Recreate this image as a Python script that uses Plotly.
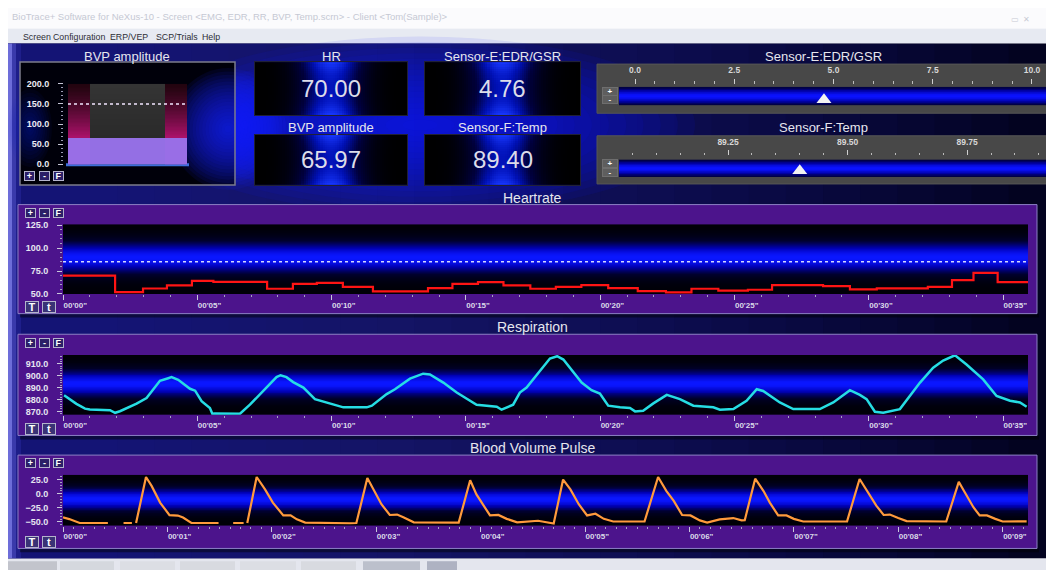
import numpy as np
import plotly.graph_objects as go

W, H = 1054, 570
OFF = 8  # the page body offsets the figure by its default margin
FONT = "Liberation Sans, Arial, sans-serif"

# ------------------------------------------------------------------ data
window_title = "BioTrace+ Software for NeXus-10 - Screen <EMG, EDR, RR, BVP, Temp.scrn> - Client <Tom(Sample)>"
menu_items = ["Screen", "Configuration", "ERP/VEP", "SCP/Trials", "Help"]

bvp_amp_value = 65.97
bvp_amp_threshold = 150.0
bvp_amp_ticks = [0, 50, 100, 150, 200]

value_titles = ["HR", "Sensor-E:EDR/GSR", "BVP amplitude", "Sensor-F:Temp"]
value_numbers = [70.00, 4.76, 65.97, 89.40]

edr_title = "Sensor-E:EDR/GSR"
edr_value = 4.76
edr_ticks = [0.0, 2.5, 5.0, 7.5, 10.0]
temp_title = "Sensor-F:Temp"
temp_value = 89.40
temp_ticks = [89.25, 89.50, 89.75]

hr_time = [0, 1.94, 2.98, 3.87, 4.8, 5.6, 7.6, 8.56, 9.45, 10.42, 11.54, 13.59, 14.5,
           15.45, 16.4, 17.4, 18.35, 19.3, 20.3, 21.4, 22.45, 23.4, 24.4, 25.5, 26.4,
           28.3, 29.3, 30.3, 32.2, 33.1, 33.9, 34.8, 35.93]
hr_bpm = [70, 52, 56, 59.3, 64.3, 63.2, 55.7, 61, 62, 57.8, 52.9, 56.4, 61,
          62.9, 59.3, 55.7, 57.8, 59.6, 56.4, 53.2, 51.8, 55.7, 53.6, 54.6, 59.6,
          58.6, 55, 56.1, 57.8, 65, 72.9, 62.9, 62.9]
hr_threshold = 85
hr_ticks = [50, 75, 100, 125]

resp_time = [0.04, 0.5, 0.82, 1.0, 1.75, 1.94, 2.12, 2.74, 3.11, 3.61, 3.92, 4.04, 4.29,
             4.73, 4.92, 5.16, 5.47, 5.56, 5.65, 6.55, 6.59, 6.96, 7.58, 7.95, 8.1, 8.32,
             8.57, 8.95, 9.38, 9.94, 10.19, 10.44, 11.31, 11.5, 12.05, 12.36, 12.92, 13.41,
             13.66, 14.16, 14.66, 15.15, 15.4, 16.15, 16.33, 16.76, 17.01, 17.26, 17.64,
             18.13, 18.4, 18.63, 19.31, 19.68, 19.99, 20.3, 20.74, 21.11, 21.3, 21.6, 21.98,
             22.48, 22.97, 23.47, 24.21, 24.46, 24.96, 25.45, 25.83, 26.07, 26.69, 27.19,
             28.18, 28.68, 29.3, 29.67, 29.92, 30.23, 30.54, 31.16, 31.91, 32.4, 32.77,
             33.21, 33.64, 34.26, 34.76, 35.26, 35.63, 35.88]
resp_value = [883.5, 876.3, 872.3, 871.5, 871, 868.8, 870.1, 876.5, 881.2, 895.7, 897.9, 898.8,
              896.5, 889, 887.4, 878.5, 872.9, 868, 868.3, 868.3, 868, 875.6, 890, 898.8,
              900.4, 898.8, 894.6, 890, 880.3, 876.7, 875.6, 873.4, 873.4, 874.8, 884.5,
              888.6, 897.5, 901.7, 901.1, 894.2, 885.8, 878.9, 875.6, 873.9, 871.4, 875.6,
              885.8, 890, 901.1, 914.4, 916.4, 913.6, 894.2, 887.8, 885, 874.8, 873.4,
              872.8, 870, 870.6, 876.7, 883.9, 880.3, 874.8, 873.4, 871.4, 871.9, 878.9,
              888.6, 887.2, 877.5, 871.9, 871.9, 877.5, 887.8, 883.9, 880.3, 869.7, 868.9,
              871.9, 894.2, 906.7, 912.8, 917.2, 909.4, 896.9, 883, 878.9, 877.5, 873.9]
resp_ticks = [870, 880, 890, 900, 910]

bvp_time = [0.0, 0.06, 0.16, 0.43, 0.5, 0.58, 0.66, 0.68, 0.70, 0.795, 0.85, 0.93, 1.02,
            1.1, 1.15, 1.23, 1.49, 1.56, 1.63, 1.73, 1.75, 1.765, 1.855, 1.935, 2.01,
            2.11, 2.18, 2.24, 2.32, 2.75, 2.81, 2.915, 2.99, 3.05, 3.13, 3.2, 3.26, 3.36,
            3.79, 3.9, 3.96, 4.03, 4.09, 4.17, 4.25, 4.35, 4.45, 4.55, 4.70, 4.79, 4.86,
            4.94, 5.02, 5.1, 5.18, 5.27, 5.57, 5.70, 5.78, 5.85, 5.93, 6.01, 6.1, 6.17,
            6.29, 6.42, 6.5, 6.53, 6.63, 6.71, 6.77, 6.85, 6.93, 7.0, 7.09, 7.51, 7.63,
            7.71, 7.79, 7.86, 7.92, 8.0, 8.08, 8.46, 8.58, 8.64, 8.72, 8.78, 8.85, 8.93,
            9.0, 9.23]
bvp_value = [-42, -45, -52, -52, None, -52, -52, None, -52, 29.7, 13.5, -15.7, -38,
             -38.8, -42.3, -52, -52, None, -52, -52, None, -52, 29.7, 7.7, -15.7,
             -38.5, -38.5, -45.5, -51.3, -52.4, -52, 28, 1.7, -18.6, -37.7, -37, -41.9, -50.7,
             -51.3, 24, -1.2, -21, -38.5, -37.7, -44.6, -50.7, -49, -48, -53, 25.2, 7.7,
             -18.6, -38.5, -35.6, -44.6, -49.3, -49.3, 29.7, 4.8, -12.8, -37.7, -38.5, -47.3, -51.3,
             -45.5, -43.2, -47.3, -47, 26.8, 4.8, -15.7, -38.5, -38.5, -44.6, -49.3, -49, 26.2,
             1.7, -21, -37.7, -37, -43.2, -48.5, -49.3, 21, 1.7, -24, -38.5, -38.5, -44.6,
             -49.3, -49]
bvp_ticks = [-50, -25, 0, 25]

long_ticks = [0, 5, 10, 15, 20, 25, 30, 35]
long_labels = ["00'00\"", "00'05\"", "00'10\"", "00'15\"", "00'20\"", "00'25\"", "00'30\"", "00'35\""]
short_ticks = [0, 1, 2, 3, 4, 5, 6, 7, 8, 9]
short_labels = ["00'00\"", "00'01\"", "00'02\"", "00'03\"", "00'04\"",
                "00'05\"", "00'06\"", "00'07\"", "00'08\"", "00'09\""]

chart_titles = ["Heartrate", "Respiration", "Blood Volume Pulse"]


# ------------------------------------------------------------------ helpers
def X(p):
    return (p - OFF) / W


def Y(p):
    return 1 - (p - OFF) / H


shapes, annotations, traces, axes = [], [], [], {}


def rect(x0, y0, x1, y1, fill, line=None, lw=0):
    shapes.append(dict(type="rect", xref="paper", yref="paper", layer="below",
                       x0=X(x0), x1=X(x1), y0=Y(y1), y1=Y(y0), fillcolor=fill,
                       line=dict(color=line or "rgba(0,0,0,0)", width=lw)))


def glow(cx, cy, rx, ry, rgb, alpha, n=10):
    for i in range(n):
        k = 1 - i / n
        shapes.append(dict(type="circle", xref="paper", yref="paper", layer="below",
                           x0=X(cx - rx * k), x1=X(cx + rx * k),
                           y0=Y(cy + ry * k), y1=Y(cy - ry * k),
                           fillcolor=f"rgba({rgb},{alpha})", line=dict(width=0)))


def label(x, y, s, size, color="#e6e6ee", bold=False, xanchor="center", family=FONT):
    annotations.append(dict(xref="paper", yref="paper", x=X(x), y=Y(y), text=s,
                            showarrow=False, xanchor=xanchor, yanchor="middle",
                            font=dict(size=size, color=color, family=family,
                                      weight="bold" if bold else "normal")))


def button(x, y, s, w, h, size=9, bg="#2c1f68", border="#b4b4cc", color="#ffffff"):
    annotations.append(dict(xref="paper", yref="paper", x=X(x), y=Y(y), text=f"<b>{s}</b>",
                            showarrow=False, xanchor="center", yanchor="middle",
                            width=w, height=h, bgcolor=bg, bordercolor=border,
                            borderwidth=1, borderpad=0,
                            font=dict(size=size, color=color, family=FONT)))


def subplot(n, px0, px1, py0, py1):
    s = "" if n == 1 else str(n)
    return ("xaxis" + s, "yaxis" + s, "x" + s, "y" + s,
            [X(px0), X(px1)], [Y(py1), Y(py0)])


def centers(edges):
    e = np.asarray(edges, dtype=float)
    return (e[:-1] + e[1:]) / 2


HIDDEN = dict(showticklabels=False, ticks="", showgrid=False, zeroline=False,
              showline=False, fixedrange=True)

# ------------------------------------------------------------------ window chrome
rect(0, 0, W + 20, 24, "#fbfbfd")
rect(0, 24, W + 20, 39, "#e7eaf2")
label(10, 12, window_title, 9.5, color="#c6c9d4", xanchor="left")
label(1020, 15, "▭  ✕", 8, color="#c8cad4")
for name, mx in zip(menu_items, [21, 51, 108, 154, 200]):
    label(mx, 32, name, 8.8, color="#2e2e36", xanchor="left")

rect(0, 563, W + 20, 580, "#e4e6ee")
for bx0, bx1, col in [(0, 57, "#c2c4cc"), (60, 114, "#d5d8de"), (120, 175, "#dcdee4"),
                      (180, 235, "#d8dae0"), (240, 296, "#dcdee4"), (301, 356, "#d8dae0"),
                      (363, 420, "#bcc0cc"), (427, 457, "#aeb2c2")]:
    rect(bx0, 566, bx1, 580, col)

# ------------------------------------------------------------------ app background
rect(8, 39, 1046, 563, "#02021a")
for i in range(26):
    xe = 1046 - i * (1046 - 80) / 26
    rect(8, 39, xe, 563, "rgba(30,30,150,0.05)")
glow(420, 122, 275, 90, "12,22,255", 0.085, n=16)
glow(245, 122, 45, 55, "20,30,255", 0.08, n=12)
rect(8, 39, 12, 563, "rgba(125,125,235,0.85)")
rect(12, 39, 16, 563, "rgba(90,90,215,0.55)")
rect(16, 39, 21, 563, "rgba(55,55,190,0.3)")

# BVP amplitude panel
rect(20, 58, 235, 183, "#00000a")
glow(228, 126, 58, 62, "20,35,255", 0.085, n=18)
glow(30, 125, 22, 40, "20,30,200", 0.06, n=10)
rect(66, 161, 189, 164, "rgba(70,130,255,0.85)")
rect(20, 58, 235, 183, "rgba(0,0,0,0)", line="#7c7c8c", lw=1.5)

# slider panels
rect(597, 60, 1047, 110, "#484848", line="#575757", lw=1)
rect(597, 133, 1047, 182, "#484848", line="#575757", lw=1)

# chart panels
for (p0, p1) in [(203, 314), (335, 438), (458, 553)]:
    rect(20, p1, 1039, p1 + 4, "rgba(0,0,0,0.45)")
    rect(18, p0, 1037, p1, "#4c148c", line="#8c80c4", lw=1)

# ------------------------------------------------------------------ BVP amplitude bar (subplot 1)
xa, ya, xr, yr, xd, yd = subplot(1, 68, 187, 80, 162)
axes[xa] = dict(domain=xd, range=[0, 1], anchor=yr, **HIDDEN)
axes[ya] = dict(domain=yd, range=[0, 200], anchor="free", position=X(63),
                tickvals=bvp_amp_ticks, tickformat=".1f", ticks="outside", ticklen=5,
                tickcolor="#c4c4d4", tickwidth=1,
                minor=dict(tick0=0, dtick=10, ticks="outside", ticklen=2.5, tickcolor="#9a9ab4"),
                tickfont=dict(size=9, color="#ececf4", family=FONT, weight="bold"),
                showgrid=False, zeroline=False, showline=False, fixedrange=True,
                ticklabelstandoff=7)
amp_rows = np.linspace(0, 200, 61)
amp_c = centers(amp_rows)
pink = 0.31 + 0.69 * np.clip(1 - (amp_c - 60) / 140, 0, 1) ** 1.3
grey = 0.08 + 0.18 * (amp_c / 200)
traces.append(go.Heatmap(x=[0, 0.185, 0.815, 1], y=amp_rows,
                         z=np.column_stack([pink, grey, pink]),
                         colorscale=[[0, "#1e1e1e"], [0.3, "#383838"], [0.31, "#22040f"],
                                     [1, "#b41270"]],
                         zmin=0, zmax=1, showscale=False, hoverinfo="skip",
                         xaxis=xr, yaxis=yr))
traces.append(go.Bar(x=[0.5], y=[bvp_amp_value], width=[1],
                     marker=dict(color="rgba(152,114,234,0.97)", line=dict(width=0)),
                     hoverinfo="skip", xaxis=xr, yaxis=yr))
shapes.append(dict(type="line", xref=xr, yref=yr, layer="above", x0=0, x1=1,
                   y0=bvp_amp_threshold, y1=bvp_amp_threshold,
                   line=dict(color="#f2e6ff", width=1.5, dash="dot")))
label(127, 52, "BVP amplitude", 13)
for s, bx in zip(["+", "-", "F"], [29, 44, 58]):
    button(bx, 174, s, 9, 8, size=9)

# ------------------------------------------------------------------ value boxes (subplots 2-5)
gx = np.linspace(0, 1, 73)
gy = np.linspace(0, 1, 25)
glow_z = (np.exp(-((centers(gx) - 0.5) / 0.2) ** 2)[None, :]
          * (0.72 + 0.28 * ((centers(gy) - 0.5) * 2) ** 2)[:, None])
box_px = [(255, 407, 58, 112), (425, 580, 58, 112), (255, 407, 132, 183), (425, 580, 132, 183)]
title_y = [52, 52, 125, 125]
for i, (ttl, val) in enumerate(zip(value_titles, value_numbers)):
    bx0, bx1, by0, by1 = box_px[i]
    xa, ya, xr, yr, xd, yd = subplot(2 + i, bx0, bx1, by0, by1)
    frame = dict(showticklabels=False, ticks="", showgrid=False, zeroline=False,
                 showline=True, mirror=True, linecolor="#202036", linewidth=1, fixedrange=True)
    axes[xa] = dict(domain=xd, range=[0, 1], anchor=yr, **frame)
    axes[ya] = dict(domain=yd, range=[0, 1], anchor=xr, **frame)
    traces.append(go.Heatmap(x=gx, y=gy, z=glow_z,
                             colorscale=[[0, "#000000"], [0.35, "#00003c"], [0.7, "#0010b4"],
                                         [1, "#1838ff"]],
                             zmin=0, zmax=1, showscale=False, hoverinfo="skip",
                             xaxis=xr, yaxis=yr))
    label((bx0 + bx1) / 2, title_y[i], ttl, 13)
    label((bx0 + bx1) / 2, (by0 + by1) / 2, f"{val:.2f}", 24, color="#dcdcea")


# ------------------------------------------------------------------ sliders (subplots 6-7)
def slider(n, py0, py1, rng, ticks, fmt, minor_dt, axis_y, value, mark_y, title, title_y):
    xa, ya, xr, yr, xd, yd = subplot(n, 619, 1047, py0, py1)
    axes[xa] = dict(domain=xd, range=rng, side="top", anchor="free", position=Y(axis_y),
                    tickvals=ticks, tickformat=fmt, ticks="outside", ticklen=5, tickwidth=1,
                    tickcolor="#d0d0d0",
                    minor=dict(tick0=ticks[0], dtick=minor_dt, ticks="outside", ticklen=2.5,
                               tickcolor="#bcbcbc"),
                    tickfont=dict(size=8.5, color="#d8d8d8", family=FONT, weight="bold"),
                    showgrid=False, zeroline=False, showline=False, fixedrange=True,
                    ticklabelstandoff=2)
    axes[ya] = dict(domain=yd, range=[0, 1], anchor=xr, visible=False, fixedrange=True)
    rows = np.linspace(0, 1, 31)
    z = np.exp(-((centers(rows) - 0.5) / 0.32) ** 2)[:, None]
    traces.append(go.Heatmap(x=rng, y=rows, z=z,
                             colorscale=[[0, "#00001e"], [0.45, "#0000a0"], [1, "#0a12ff"]],
                             zmin=0, zmax=1, showscale=False, hoverinfo="skip",
                             xaxis=xr, yaxis=yr))
    traces.append(go.Scatter(x=[value], y=[mark_y], mode="markers", cliponaxis=False,
                             marker=dict(symbol="triangle-up", size=13, color="#f2f2f2",
                                         line=dict(width=0)),
                             hoverinfo="skip", xaxis=xr, yaxis=yr))
    label(823, title_y, title, 13)
    mid = (py0 + py1) / 2
    button(610, mid - 4.5, "+", 14, 7, size=8, bg="#5e5e5e", border="#6e6e6e")
    button(610, mid + 4, "-", 14, 7, size=8, bg="#5e5e5e", border="#6e6e6e")


slider(6, 83, 102, [-0.403, 10.378], edr_ticks, ".1f", 0.5, 80, edr_value, 0.3, edr_title, 52)
slider(7, 157, 175, [89.022, 89.917], temp_ticks, ".2f", 0.05, 153, temp_value, 0.36, temp_title, 125)


# ------------------------------------------------------------------ charts (subplots 8-10)
def chart(n, py0, py1, panel_top, panel_bot, t, v, xrng, yrng, yticks, yminor,
          xticks, xlabels, xminor, color, width, title, line_shape="linear", thr=None):
    xa, ya, xr, yr, xd, yd = subplot(n, 63, 1028, py0, py1)
    axes[xa] = dict(domain=xd, range=xrng, anchor=yr, tickvals=xticks, ticktext=xlabels,
                    ticks="outside", ticklen=5, tickwidth=1, tickcolor="#c8c8da",
                    minor=dict(tick0=0, dtick=xminor, ticks="outside", ticklen=2.5,
                               tickcolor="#a4a4c0"),
                    ticklabelposition="outside right",
                    tickfont=dict(size=8, color="#dadae8", family=FONT, weight="bold"),
                    showgrid=False, zeroline=False, showline=False, fixedrange=True,
                    ticklabelstandoff=3)
    axes[ya] = dict(domain=yd, range=yrng, anchor=xr, tickvals=yticks, tickformat=".1f",
                    ticks="outside", ticklen=5, tickwidth=1, tickcolor="#c8c8da",
                    minor=dict(tick0=yticks[0], dtick=yminor, ticks="outside", ticklen=2.5,
                               tickcolor="#a4a4c0"),
                    tickfont=dict(size=9, color="#e6e6f0", family=FONT, weight="bold"),
                    showgrid=False, zeroline=False, showline=False, fixedrange=True,
                    ticklabelstandoff=7)
    rows = np.linspace(yrng[0], yrng[1], 71)
    rel = (centers(rows) - yrng[0]) / (yrng[1] - yrng[0])
    z = np.exp(-((rel - 0.52) / 0.22) ** 2)[:, None]
    traces.append(go.Heatmap(x=[xrng[0] - 1, xrng[1] + 1], y=rows, z=z,
                             colorscale=[[0, "#000006"], [0.3, "#00002e"], [0.7, "#0000b4"],
                                         [1, "#0a16ff"]],
                             zmin=0, zmax=1, showscale=False, hoverinfo="skip",
                             xaxis=xr, yaxis=yr))
    if thr is not None:
        shapes.append(dict(type="line", xref=xr, yref=yr, layer="above",
                           x0=xrng[0], x1=xrng[1], y0=thr, y1=thr,
                           line=dict(color="#d4d8ff", width=1.5, dash="dot")))
    traces.append(go.Scatter(x=t, y=v, mode="lines", connectgaps=False,
                             line=dict(color=color, width=width, shape=line_shape),
                             hoverinfo="skip", xaxis=xr, yaxis=yr))
    label(532.5, panel_top - 7, title, 14)
    for s, bx in zip(["+", "-", "F"], [30.5, 44, 58]):
        button(bx, panel_top + 8.5, s, 9, 8, size=9)
    for s, bx in zip(["T", "t"], [32, 48.5]):
        button(bx, panel_bot - 6.5, s, 12, 10, size=11, bg="#3a3276")


chart(8, 223, 294, 203, 314, hr_time, hr_bpm, [0, 35.93], [50, 126], hr_ticks, 5,
      long_ticks, long_labels, 1, "#ff1414", 2.2, chart_titles[0], line_shape="hv",
      thr=hr_threshold)
chart(9, 356, 417, 335, 438, resp_time, resp_value, [0, 35.93], [867.1, 917.5], resp_ticks, 2,
      long_ticks, long_labels, 1, "#26dde4", 2.5, chart_titles[1])
chart(10, 478, 530, 458, 553, bvp_time, bvp_value, [0, 9.243], [-57, 33.7], bvp_ticks, 5,
      short_ticks, short_labels, 0.1, "#ff9a3c", 2.2, chart_titles[2])

# ------------------------------------------------------------------ figure
fig = go.Figure(data=traces)
fig.update_layout(width=W, height=H, margin=dict(l=0, r=0, t=0, b=0),
                  paper_bgcolor="#f3f4f8", plot_bgcolor="rgba(0,0,0,0)",
                  showlegend=False, shapes=shapes, annotations=annotations,
                  font=dict(family=FONT), bargap=0, **axes)
fig.write_html("out.html")
